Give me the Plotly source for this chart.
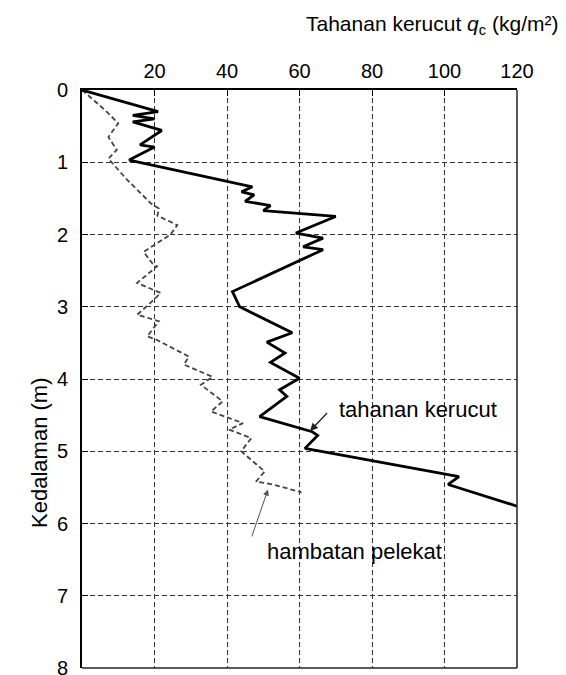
import plotly.graph_objects as go

# Tahanan kerucut (cone resistance), solid line
qc_values = [0, 21, 14, 20, 14, 22, 16, 20, 13, 47, 44, 47.5, 45, 52, 50, 70, 59, 66.5, 61, 66.5,
             41.5, 43.5, 58, 51, 56, 52, 60, 54.5, 56.5, 49, 63.5, 65, 61.5, 104, 101, 120]
qc_depth = [0, 0.30, 0.35, 0.40, 0.44, 0.56, 0.76, 0.79, 0.97, 1.34, 1.41, 1.45, 1.54, 1.60, 1.67, 1.75,
            1.98, 2.05, 2.17, 2.21, 2.79, 3.0, 3.36, 3.49, 3.64, 3.77, 3.99, 4.15, 4.24, 4.52, 4.73,
            4.78, 4.96, 5.35, 5.46, 5.76]

# Hambatan pelekat (sleeve friction), dashed line
fs_values = [0, 6.4, 10, 7.3, 9.6, 7.3, 12.4, 19, 21.2, 20.8, 26.3, 24.4, 17, 19.4, 20.7, 15.2, 21.7,
             18.4, 15.2, 21.2, 18, 20.7, 29.5, 28.1, 36, 32.8, 38.8, 35.6, 44.4, 40.6, 46.7, 43.9,
             50.4, 48, 52.7, 60.6]
fs_depth = [0, 0.28, 0.46, 0.65, 0.83, 0.95, 1.24, 1.57, 1.64, 1.74, 1.87, 2.0, 2.24, 2.4, 2.44, 2.67,
            2.81, 2.97, 3.11, 3.2, 3.41, 3.46, 3.69, 3.80, 3.97, 4.08, 4.31, 4.45, 4.61, 4.70, 4.82,
            5.0, 5.28, 5.42, 5.46, 5.57]

x_ticks = [20, 40, 60, 80, 100, 120]
y_ticks = [0, 1, 2, 3, 4, 5, 6, 7, 8]

FONT = "Liberation Sans, Arial, sans-serif"

fig = go.Figure()
fig.add_trace(go.Scatter(x=fs_values, y=fs_depth, mode="lines",
                         line=dict(color="#444", width=1.8, dash="5px,3px"), name="hambatan pelekat"))
fig.add_trace(go.Scatter(x=qc_values, y=qc_depth, mode="lines",
                         line=dict(color="black", width=2.8), name="tahanan kerucut"))

fig.update_layout(
    width=558, height=667,
    margin=dict(l=74, r=49, t=82, b=7, autoexpand=False),
    paper_bgcolor="white", plot_bgcolor="white",
    showlegend=False,
    font=dict(family=FONT, size=20, color="black"),
    xaxis=dict(side="top", range=[0, 120], tickvals=x_ticks, ticks="inside", ticklen=6,
               tickcolor="black", showline=True, linecolor="black", linewidth=2,
               showgrid=True, gridcolor="#333", gridwidth=1, griddash="5px,3px",
               zeroline=False, fixedrange=True, tickfont=dict(size=20),
               ticklabeloverflow="allow", ticklabelstandoff=2),
    yaxis=dict(range=[8, 0], tickvals=y_ticks, ticks="inside", ticklen=6,
               tickcolor="black", showline=True, linecolor="black", linewidth=2,
               showgrid=True, gridcolor="#333", gridwidth=1, griddash="5px,3px",
               zeroline=False, fixedrange=True, tickfont=dict(size=20),
               ticklabeloverflow="allow", ticklabelstandoff=8),
)

# right and bottom frame edges
fig.add_shape(type="line", xref="paper", yref="paper", x0=1, x1=1, y0=0, y1=1,
              line=dict(color="#222", width=1.5))
fig.add_shape(type="line", xref="paper", yref="paper", x0=0, x1=1, y0=0, y1=0,
              line=dict(color="#222", width=1.5))

# axis titles
fig.add_annotation(text="Tahanan kerucut <i>q</i><sub>c</sub> (kg/m²)", xref="paper", yref="paper",
                   x=1.098, y=1.112, xanchor="right", yanchor="middle", showarrow=False,
                   font=dict(size=21))
fig.add_annotation(text="Kedalaman (m)", xref="paper", yref="y", x=-0.131, y=5.03,
                   textangle=-90, showarrow=False, font=dict(size=22))

# labels with arrows
fig.add_annotation(text="tahanan kerucut", x=92.8, y=4.42, showarrow=False, font=dict(size=22))
fig.add_annotation(x=62.9, y=4.72, ax=68, ay=4.45, axref="x", ayref="y", text="",
                   showarrow=True, arrowhead=2, arrowsize=1.2, arrowwidth=1.3, arrowcolor="#222")
fig.add_annotation(text="hambatan pelekat", x=75.3, y=6.39, showarrow=False, font=dict(size=22))
fig.add_annotation(x=51.3, y=5.53, ax=46.7, ay=6.2, axref="x", ayref="y", text="",
                   showarrow=True, arrowhead=2, arrowsize=1.2, arrowwidth=1, arrowcolor="#555")

fig.write_html("out.html")
